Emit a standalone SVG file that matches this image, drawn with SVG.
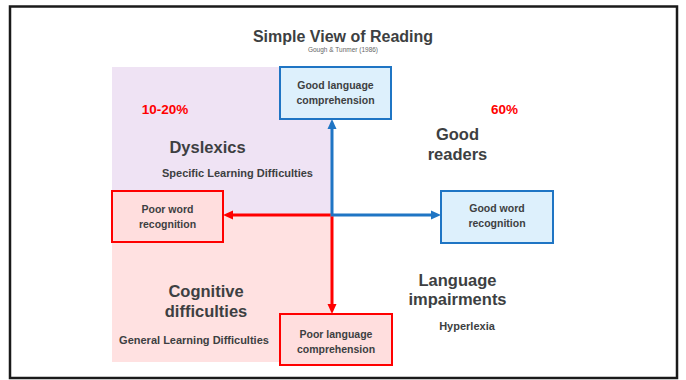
<svg xmlns="http://www.w3.org/2000/svg" width="686" height="380" viewBox="0 0 686 380">
<style>
.t{font-family:"Liberation Sans",Arial,sans-serif;font-weight:bold;fill:#3d3f42;text-anchor:middle}
.big{font-size:16.5px}
.sub{font-size:11px}
.box{font-size:10.5px}
.pct{font-size:13.5px;fill:#ff0000}
.bb{fill:#ddf0fc;stroke:#1f75c4;stroke-width:2}
.rb{fill:#ffdede;stroke:#ff0000;stroke-width:2}
.bl{stroke:#1f75c4;stroke-width:3;fill:none}
.rl{stroke:#ff0000;stroke-width:3;fill:none}
</style>
<defs>
<marker id="ab" markerUnits="userSpaceOnUse" markerWidth="10" markerHeight="10" refX="5" refY="5" orient="auto"><path d="M0,0.5 L10,5 L0,9.5 z" fill="#1f75c4"/></marker>
<marker id="ar" markerUnits="userSpaceOnUse" markerWidth="10" markerHeight="10" refX="5" refY="5" orient="auto"><path d="M0,0.5 L10,5 L0,9.5 z" fill="#ff0000"/></marker>
</defs>
<rect x="0" y="0" width="686" height="380" fill="#ffffff"/>
<rect x="10" y="6.5" width="667" height="371.5" fill="none" stroke="#1a1a1a" stroke-width="2.5"/>
<g id="regions">
<rect x="112" y="67" width="220" height="148" fill="#efe3f4"/>
<rect x="112" y="215" width="220" height="147" fill="#ffe1e1"/>
</g>
<g id="title">
<text class="t" x="343" y="42" style="font-size:16px">Simple View of Reading</text>
<text class="t" x="343" y="52" style="font-size:6.5px;font-weight:normal;fill:#666">Gough &amp; Tunmer (1986)</text>
</g>
<g id="labels">
<text class="t pct" x="165" y="114">10-20%</text>
<text class="t pct" x="504.5" y="114">60%</text>
<text class="t big" x="207.5" y="153">Dyslexics</text>
<text class="t sub" x="237.5" y="177">Specific Learning Difficulties</text>
<text class="t big" x="457.5" y="140">Good</text>
<text class="t big" x="457.5" y="159.5">readers</text>
<text class="t big" x="206" y="297">Cognitive</text>
<text class="t big" x="206" y="317">difficulties</text>
<text class="t sub" x="194" y="343.5">General Learning Difficulties</text>
<text class="t big" x="457.5" y="286">Language</text>
<text class="t big" x="457.5" y="305">impairments</text>
<text class="t sub" x="467" y="329.5">Hyperlexia</text>
</g>
<g id="connectors">
<line class="bl" x1="332" y1="216.5" x2="332" y2="124" marker-end="url(#ab)"/>
<line class="bl" x1="330.5" y1="215" x2="436" y2="215" marker-end="url(#ab)"/>
<line class="rl" x1="330.5" y1="215" x2="228" y2="215" marker-end="url(#ar)"/>
<line class="rl" x1="332" y1="216.5" x2="332" y2="309" marker-end="url(#ar)"/>
</g>
<g id="good-language">
<rect class="bb" x="280" y="67" width="111" height="52"/>
<text class="t box" x="335.5" y="88.5">Good language</text>
<text class="t box" x="335.5" y="103.5">comprehension</text>
</g>
<g id="poor-word">
<rect class="rb" x="112" y="191" width="111" height="51"/>
<text class="t box" x="167.5" y="212.5">Poor word</text>
<text class="t box" x="167.5" y="227.5">recognition</text>
</g>
<g id="good-word">
<rect class="bb" x="441" y="191" width="112" height="52"/>
<text class="t box" x="497" y="212">Good word</text>
<text class="t box" x="497" y="227">recognition</text>
</g>
<g id="poor-language">
<rect class="rb" x="280" y="314" width="112" height="51"/>
<text class="t box" x="336" y="337.5">Poor language</text>
<text class="t box" x="336" y="352.5">comprehension</text>
</g>
</svg>
